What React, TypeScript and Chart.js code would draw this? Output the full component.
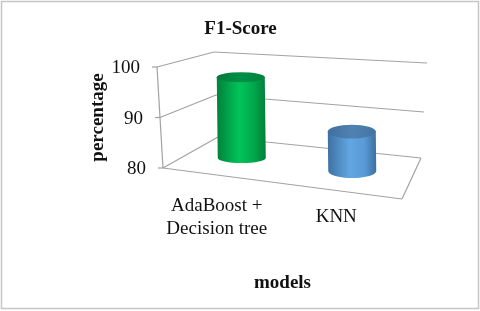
import React, { useEffect, useRef } from "react";
import { Chart, registerables } from "chart.js";

Chart.register(...registerables);

const categories = [["AdaBoost +", "Decision tree"], "KNN"];
const f1Scores = [96, 87.8];
const topColors = [
  ["#007a3a", "#009048", "#00803c"],
  ["#3f6f9e", "#4f82b2", "#4374a4"],
];
const bodyColors = [
  ["#00843c", "#00c45a", "#00a84c", "#007f3a"],
  ["#3f72a4", "#62a6e2", "#5a9ad6", "#3d70a0"],
];
const FONT = "'Liberation Serif', 'Times New Roman', serif";
const AXIS_GRAY = "#a2a2a2";

// Oblique projection of the chart area (163..402 x 67..168) into the box of the picture.
const floorFront = { x0: 163, y0: 168, x1: 402, y1: 199 };
const floorBack = { x0: 218, y0: 137, x1: 421, y1: 158 };
const wallTop = { lx: 214, ly: 52, rx: 427, ry: 63 };
const wallMid = { lx: 216, ly: 95, rx: 424, ry: 112 };

const box3d = {
  id: "box3d",
  beforeDatasetsDraw(chart: any) {
    const { ctx, scales, chartArea } = chart;
    const y = scales.y;
    ctx.save();
    ctx.strokeStyle = "#c6c6c6";
    ctx.lineWidth = 1.5;
    ctx.strokeRect(1.5, 1.5, 477, 307);

    ctx.strokeStyle = AXIS_GRAY;
    ctx.lineWidth = 1.2;
    const line = (a: number, b: number, c: number, d: number) => {
      ctx.beginPath();
      ctx.moveTo(a, b);
      ctx.lineTo(c, d);
      ctx.stroke();
    };
    const h = chartArea.bottom - chartArea.top;
    const skew = (py: number) => chartArea.left - (6 * (chartArea.bottom - py)) / h;
    const yTop = y.getPixelForValue(100);
    const yMid = y.getPixelForValue(90);
    const yBot = y.getPixelForValue(80);
    line(skew(yTop), yTop, skew(yBot), yBot);
    line(skew(yTop), yTop, wallTop.lx, wallTop.ly);
    line(wallTop.lx, wallTop.ly, wallTop.rx, wallTop.ry);
    line(skew(yMid), yMid, wallMid.lx, wallMid.ly);
    line(wallMid.lx, wallMid.ly, wallMid.rx, wallMid.ry);
    line(floorFront.x0, floorFront.y0, floorBack.x0, floorBack.y0);
    line(floorBack.x0, floorBack.y0, floorBack.x1, floorBack.y1);
    line(floorBack.x1, floorBack.y1, floorFront.x1, floorFront.y1);
    line(floorFront.x1, floorFront.y1, floorFront.x0, floorFront.y0);

    ctx.fillStyle = "#111";
    ctx.font = `19px ${FONT}`;
    ctx.textAlign = "right";
    ctx.textBaseline = "middle";
    y.ticks.forEach((t: any) => {
      const py = y.getPixelForValue(t.value);
      const sx = skew(py);
      line(sx - 5, py, sx, py);
      ctx.fillText(String(t.value), sx - 17, py + 1.5);
    });
    ctx.restore();
  },
  beforeDatasetDraw(chart: any, args: any) {
    const { ctx, chartArea, scales } = chart;
    const meta = args.meta;
    meta.data.forEach((bar: any, i: number) => {
      const u = (bar.x - chartArea.left) / (chartArea.right - chartArea.left);
      const fx = floorFront.x0 + (floorFront.x1 - floorFront.x0) * u;
      const fy = floorFront.y0 + (floorFront.y1 - floorFront.y0) * u;
      const bx = floorBack.x0 + (floorBack.x1 - floorBack.x0) * u;
      const by = floorBack.y0 + (floorBack.y1 - floorBack.y0) * u;
      const cx = (fx + bx) / 2 - 4;
      const baseY = (fy + by) / 2 - 1;
      const height = scales.y.getPixelForValue(scales.y.min) - bar.y;
      const topY = baseY - height;
      const rx = bar.width / 2;
      const ry = rx * (0.17 + 0.16 * u);
      const topCx = cx - height * 0.012;

      const bodyGrad = ctx.createLinearGradient(cx - rx, 0, cx + rx, 0);
      const b = bodyColors[i];
      bodyGrad.addColorStop(0, b[0]);
      bodyGrad.addColorStop(0.45, b[1]);
      bodyGrad.addColorStop(0.75, b[2]);
      bodyGrad.addColorStop(1, b[3]);
      ctx.save();
      ctx.fillStyle = bodyGrad;
      ctx.beginPath();
      ctx.moveTo(topCx - rx, topY);
      ctx.lineTo(cx - rx, baseY);
      ctx.ellipse(cx, baseY, rx, ry, 0, Math.PI, 0, true);
      ctx.lineTo(topCx + rx, topY);
      ctx.closePath();
      ctx.fill();

      const topGrad = ctx.createLinearGradient(topCx - rx, 0, topCx + rx, 0);
      const c = topColors[i];
      topGrad.addColorStop(0, c[0]);
      topGrad.addColorStop(0.5, c[1]);
      topGrad.addColorStop(1, c[2]);
      ctx.fillStyle = topGrad;
      ctx.beginPath();
      ctx.ellipse(topCx, topY, rx, ry, 0, 0, Math.PI * 2);
      ctx.fill();
      ctx.restore();
    });
    return false;
  },
};

export default function App() {
  const ref = useRef<HTMLCanvasElement>(null);
  useEffect(() => {
    document.body.style.margin = "0";
    const chart = new Chart(ref.current!, {
      type: "bar",
      data: {
        labels: categories as any,
        datasets: [{ label: "F1-Score", data: f1Scores, barThickness: 48, backgroundColor: ["#00a84c", "#5a9ad6"] }],
      },
      plugins: [box3d as any],
      options: {
        animation: false,
        responsive: false,
        layout: { padding: { left: 79, right: 78, top: 0, bottom: 0 } },
        plugins: {
          legend: { display: false },
          tooltip: { enabled: false },
          title: {
            display: true,
            text: "F1-Score",
            color: "#111",
            font: { family: FONT, size: 19, weight: "bold" },
            padding: { top: 17.6, bottom: 26.6 },
          },
        },
        scales: {
          x: {
            grid: { display: false },
            border: { display: false },
            ticks: {
              color: "#111",
              font: { family: FONT, size: 19 },
              crossAlign: "center",
              labelOffset: -6,
              padding: 30,
              maxRotation: 0,
              autoSkip: false,
            },
            title: {
              display: true,
              text: "models",
              color: "#111",
              font: { family: FONT, size: 19, weight: "bold" },
              padding: { top: 0, bottom: 16.6 },
            },
            afterFit(s: any) {
              s.height = 143;
            },
          },
          y: {
            min: 80,
            max: 100,
            grid: { display: false },
            border: { display: false },
            ticks: { stepSize: 10, display: false },
            title: {
              display: true,
              text: "percentage",
              color: "#111",
              font: { family: FONT, size: 19, weight: "bold" },
              padding: { top: 8, bottom: 0 },
            },
            afterFit(s: any) {
              s.width = 84;
            },
          },
        },
      },
    } as any);
    return () => chart.destroy();
  }, []);
  return (
    <div style={{ width: 480, height: 311, background: "#fff" }}>
      <canvas ref={ref} width={480} height={311} style={{ display: "block" }} />
    </div>
  );
}
